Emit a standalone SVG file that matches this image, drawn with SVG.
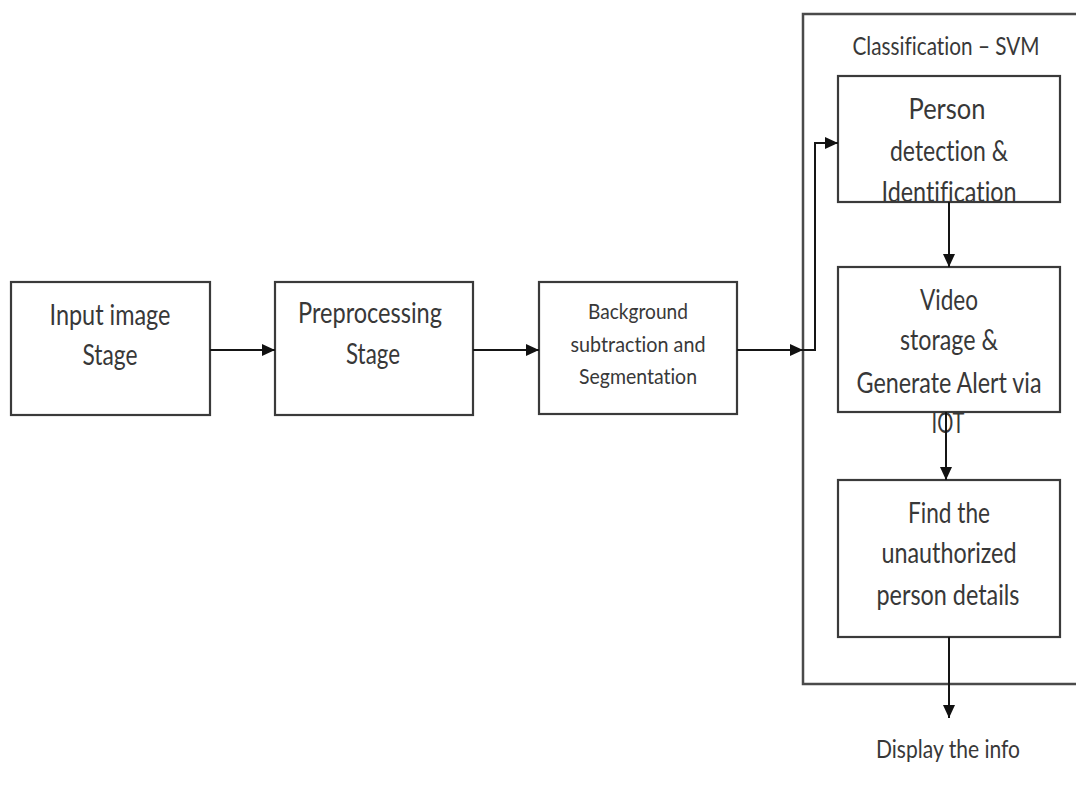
<svg xmlns="http://www.w3.org/2000/svg" width="1076" height="802" viewBox="0 0 1076 802">
<defs>
<marker id="arr" viewBox="0 0 13 12" refX="13" refY="6" markerWidth="13" markerHeight="12" markerUnits="userSpaceOnUse" orient="auto">
<path d="M0,0 L13,6 L0,12 z" fill="#111"/>
</marker>
<style>
.box{fill:#fff;stroke:#3a3a3a;stroke-width:2.2}
.cont{fill:none;stroke:#4a4a4a;stroke-width:2.5}
.con{fill:none;stroke:#151515;stroke-width:2}
text{font-family:Lato,"Open Sans","Liberation Sans",sans-serif;fill:#383838;text-anchor:middle;font-variant-ligatures:none}
.t28{font-size:29px}
.t22{font-size:22px}
.t25{font-size:25px}
</style>
</defs>
<rect width="1076" height="802" fill="#fff"/>
<g id="classification">
<path class="cont" d="M1080,14 H803 V684 H1080"/>
<text class="t25" x="946" y="55" textLength="187" lengthAdjust="spacingAndGlyphs">Classification – SVM</text>
</g>
<g id="input">
<rect class="box" x="11" y="282" width="199" height="133"/>
<text class="t28" x="110" y="325" textLength="121" lengthAdjust="spacingAndGlyphs">Input image</text>
<text class="t28" x="110" y="365" textLength="55" lengthAdjust="spacingAndGlyphs">Stage</text>
</g>
<g id="preprocessing">
<rect class="box" x="275" y="282" width="198" height="133"/>
<text class="t28" x="370" y="323" textLength="144" lengthAdjust="spacingAndGlyphs">Preprocessing</text>
<text class="t28" x="373" y="364" textLength="54" lengthAdjust="spacingAndGlyphs">Stage</text>
</g>
<g id="background">
<rect class="box" x="539" y="282" width="198" height="132"/>
<text class="t22" x="638" y="319" textLength="100" lengthAdjust="spacingAndGlyphs">Background</text>
<text class="t22" x="638" y="352" textLength="135" lengthAdjust="spacingAndGlyphs">subtraction and</text>
<text class="t22" x="638" y="384" textLength="118" lengthAdjust="spacingAndGlyphs">Segmentation</text>
</g>
<g id="person">
<rect class="box" x="838" y="76" width="222" height="126"/>
<text class="t28" x="947" y="119" textLength="77" lengthAdjust="spacingAndGlyphs">Person</text>
<text class="t28" x="949" y="161" textLength="118" lengthAdjust="spacingAndGlyphs">detection &amp;</text>
<text class="t28" x="949" y="202" textLength="135" lengthAdjust="spacingAndGlyphs">Identification</text>
</g>
<g id="video">
<rect class="box" x="838" y="267" width="222" height="145"/>
<text class="t28" x="949" y="310" textLength="58" lengthAdjust="spacingAndGlyphs">Video</text>
<text class="t28" x="949" y="350" textLength="98" lengthAdjust="spacingAndGlyphs">storage &amp;</text>
<text class="t28" x="949" y="393" textLength="185" lengthAdjust="spacingAndGlyphs">Generate Alert via</text>
<text class="t28" x="948" y="433" textLength="33" lengthAdjust="spacingAndGlyphs">IOT</text>
</g>
<g id="find">
<rect class="box" x="838" y="480" width="222" height="157"/>
<text class="t28" x="949" y="523" textLength="82" lengthAdjust="spacingAndGlyphs">Find the</text>
<text class="t28" x="949" y="563" textLength="135" lengthAdjust="spacingAndGlyphs">unauthorized</text>
<text class="t28" x="948" y="605" textLength="143" lengthAdjust="spacingAndGlyphs">person details</text>
</g>
<g id="display">
<text class="t25" x="948" y="758" textLength="144" lengthAdjust="spacingAndGlyphs">Display the info</text>
</g>
<g id="connectors">
<line class="con" x1="210" y1="350" x2="275" y2="350" marker-end="url(#arr)"/>
<line class="con" x1="473" y1="350" x2="539" y2="350" marker-end="url(#arr)"/>
<line class="con" x1="737" y1="350" x2="803" y2="350" marker-end="url(#arr)"/>
<polyline class="con" points="803,350 815,350 815,143 838,143" marker-end="url(#arr)"/>
<line class="con" x1="949" y1="202" x2="949" y2="267" marker-end="url(#arr)"/>
<line class="con" x1="946" y1="412" x2="946" y2="480" marker-end="url(#arr)"/>
<line class="con" x1="949" y1="637" x2="949" y2="718" marker-end="url(#arr)"/>
</g>
</svg>
